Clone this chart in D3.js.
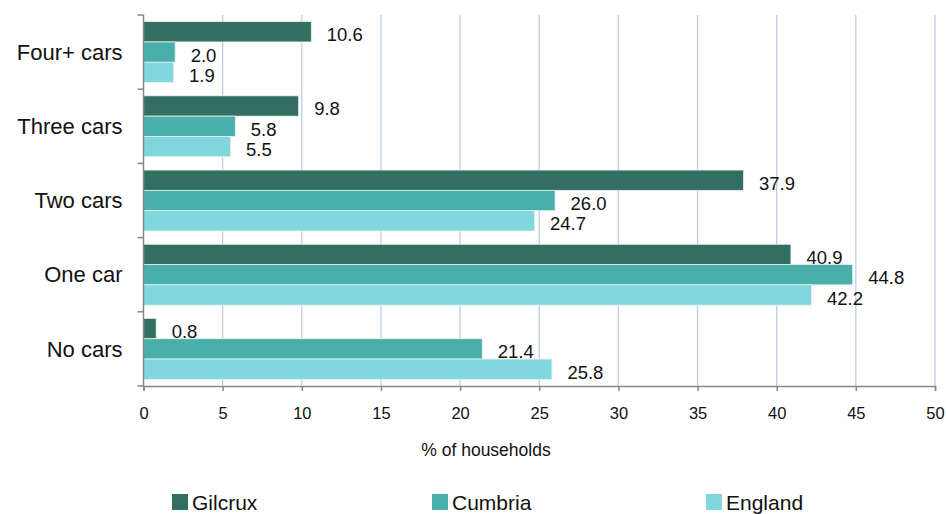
<!DOCTYPE html>
<html><head><meta charset="utf-8">
<script src="https://cdn.jsdelivr.net/npm/d3@7"></script>
<style>body{margin:0;background:#fff;} svg{display:block;font-family:"Liberation Sans",Arial,sans-serif;}</style>
</head><body>
<svg id="chart" width="946" height="514"></svg>
<script>
const categories = ["Four+ cars", "Three cars", "Two cars", "One car", "No cars"];
const seriesNames = ["Gilcrux", "Cumbria", "England"];
const gilcrux = [10.6, 9.8, 37.9, 40.9, 0.8];
const cumbria = [2.0, 5.8, 26.0, 44.8, 21.4];
const england = [1.9, 5.5, 24.7, 42.2, 25.8];
const xTicks = [0, 5, 10, 15, 20, 25, 30, 35, 40, 45, 50];
const colors = ["#336e62", "#48afab", "#80d7de"];
const seriesValues = [gilcrux, cumbria, england];

const svg = d3.select("#chart");
const x = d3.scaleLinear().domain([0, 50]).range([143.5, 935]);
const y0 = d3.scaleBand().domain(categories).range([15, 386]).padding(0);
const y1 = d3.scaleBand().domain(seriesNames).range([0, y0.bandwidth()]).paddingInner(0).paddingOuter(0.3275);

// gridlines
svg.append("g").selectAll("line").data(xTicks.filter(d => d > 0)).join("line")
  .attr("x1", d => x(d)).attr("x2", d => x(d))
  .attr("y1", 15).attr("y2", 386)
  .attr("stroke", "#bccee6").attr("stroke-width", 1.3);

// bars + labels, series by series
seriesNames.forEach((s, si) => {
  const g = svg.append("g");
  const data = categories.map((c, i) => ({c, v: seriesValues[si][i]}));
  g.selectAll("rect").data(data).join("rect")
    .attr("x", x(0))
    .attr("y", d => y0(d.c) + y1(s))
    .attr("width", d => x(d.v) - x(0))
    .attr("height", y1.bandwidth())
    .attr("fill", colors[si])
    .attr("stroke", "#e8f0ee").attr("stroke-width", 0.8);
  g.selectAll("text").data(data).join("text")
    .attr("x", d => x(d.v) + 15.5)
    .attr("y", d => y0(d.c) + y1(s) + y1.bandwidth() / 2 + 9.5)
    .attr("font-size", 18.5)
    .attr("fill", "#111")
    .text(d => d.v.toFixed(1));
});

// x axis
const xAxis = svg.append("g").attr("transform", "translate(0,386)")
  .call(d3.axisBottom(x).tickValues(xTicks).tickSize(5).tickPadding(16).tickFormat(d3.format("d")));
xAxis.select(".domain").attr("stroke", "#868686").attr("stroke-width", 1.5);
xAxis.selectAll(".tick line").attr("stroke", "#868686").attr("stroke-width", 1.5);
xAxis.selectAll(".tick text").attr("font-size", 16.5).attr("fill", "#111").attr("font-family", "Liberation Sans, Arial, sans-serif");

// y axis
const yAxis = svg.append("g").attr("transform", "translate(143.5,0)");
yAxis.append("line").attr("x1", 0).attr("x2", 0).attr("y1", 15).attr("y2", 386)
  .attr("stroke", "#868686").attr("stroke-width", 1.5);
const yTickPos = categories.map(c => y0(c)).concat([386]);
yAxis.selectAll("line.t").data(yTickPos).join("line").attr("class", "t")
  .attr("x1", -6).attr("x2", 0).attr("y1", d => d).attr("y2", d => d)
  .attr("stroke", "#868686").attr("stroke-width", 1.5);
yAxis.selectAll("text").data(categories).join("text")
  .attr("x", -21).attr("y", d => y0(d) + y0.bandwidth() / 2)
  .attr("dy", "0.35em").attr("text-anchor", "end")
  .attr("font-size", 22).attr("fill", "#111").text(d => d);

// axis title
svg.append("text").attr("x", 486).attr("y", 456).attr("text-anchor", "middle")
  .attr("font-size", 17.5).attr("fill", "#111").text("% of households");

// legend
const legX = [172, 432, 706];
const leg = svg.append("g");
seriesNames.forEach((s, i) => {
  leg.append("rect").attr("x", legX[i]).attr("y", 494).attr("width", 16).attr("height", 16).attr("fill", colors[i]);
  leg.append("text").attr("x", legX[i] + 20).attr("y", 509.5).attr("font-size", 21).attr("fill", "#111").text(s);
});
</script>
</body></html>
